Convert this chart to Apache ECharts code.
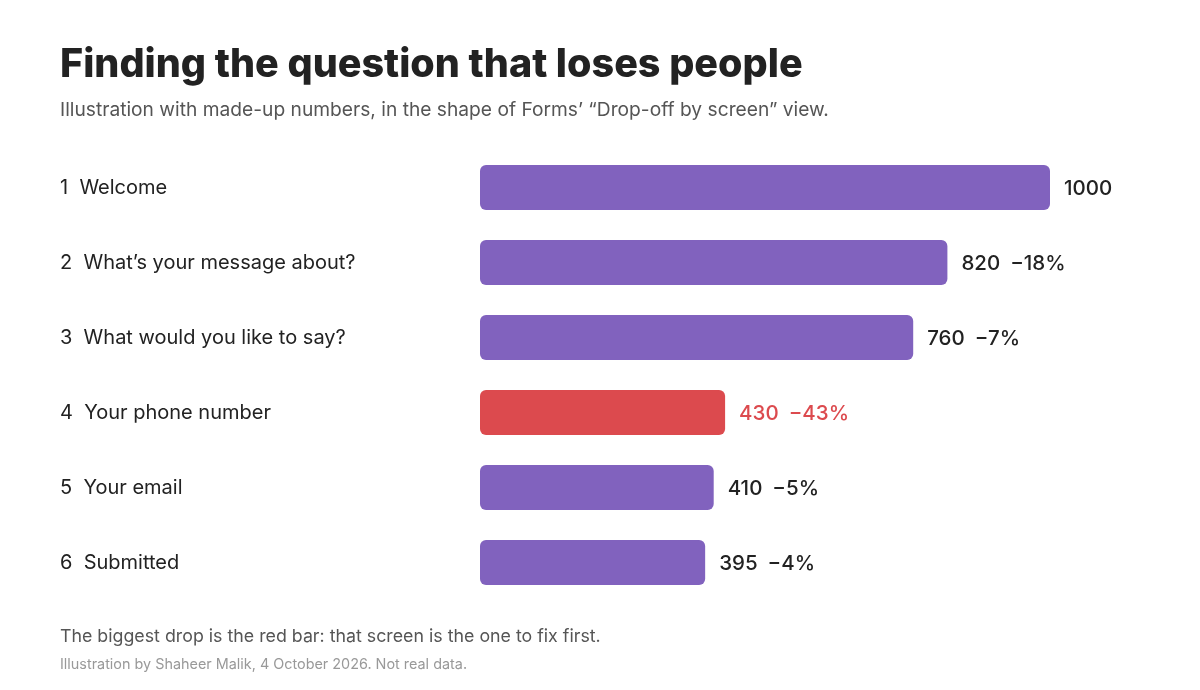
<!DOCTYPE html>
<html>
<head>
<meta charset="utf-8">
<script src="https://cdn.jsdelivr.net/npm/echarts@6/dist/echarts.min.js"></script>
<style>
  html, body { margin: 0; padding: 0; background: #fff; }
  #chart { width: 1200px; height: 690px; }
</style>
</head>
<body>
<div id="chart"></div>
<script>
// form screens, in order
const screens = ['Welcome', 'What\u2019s your message about?', 'What would you like to say?', 'Your phone number', 'Your email', 'Submitted']
// people reaching each screen
const reached = [1000, 820, 760, 430, 410, 395]
// drop vs previous screen, percent (first screen has none)
const dropPct = [null, -18, -7, -43, -5, -4]
const worstIndex = 3

const purple = '#8162BE'
const red = '#DC4A4E'
const fontFamily = 'Inter, "Noto Sans", sans-serif'

const chart = echarts.init(document.getElementById('chart'))

const option = {
  backgroundColor: '#fff',
  animation: false,
  title: [{
    text: 'Finding the question that loses people',
    left: 55,
    top: 40,
    textStyle: { fontFamily, fontSize: 39.5, fontWeight: 800, color: '#222' }
  }, {
    text: 'Illustration with made-up numbers, in the shape of Forms\u2019 \u201cDrop-off by screen\u201d view.',
    left: 55,
    top: 96,
    textStyle: { fontFamily, fontSize: 19.2, fontWeight: 400, color: '#555' }
  }, {
    text: 'The biggest drop is the red bar: that screen is the one to fix first.',
    left: 55,
    top: 623,
    textStyle: { fontFamily, fontSize: 17.8, fontWeight: 400, color: '#555' }
  }, {
    text: 'Illustration by Shaheer Malik, 4 October 2026. Not real data.',
    left: 55,
    top: 653,
    textStyle: { fontFamily, fontSize: 14.4, fontWeight: 400, color: '#999' }
  }],
  grid: { left: 480, right: 150, top: 150, bottom: 90 },
  xAxis: {
    type: 'value',
    min: 0,
    max: 1000,
    show: false
  },
  yAxis: {
    type: 'category',
    inverse: true,
    data: screens.map((s, i) => (i + 1) + '  ' + s),
    axisLine: { show: false },
    axisTick: { show: false },
    axisLabel: {
      align: 'left',
      margin: 420,
      fontFamily,
      fontSize: 20,
      color: '#222',
      padding: [5, 0, 0, 0]
    }
  },
  series: [{
    type: 'bar',
    barWidth: 45,
    data: reached.map((v, i) => {
      const c = i === worstIndex ? red : '#222'
      return {
        value: v,
        itemStyle: { color: i === worstIndex ? red : purple, borderRadius: 6 },
        label: {
          rich: {
            v: { fontFamily, fontSize: 20.5, fontWeight: 500, color: c, padding: [3, 0, 0, 0] },
            d: { fontFamily, fontSize: 20.5, fontWeight: 500, color: c, padding: [3, 0, 0, 10] }
          }
        }
      }
    }),
    label: {
      show: true,
      position: 'right',
      distance: 14,
      formatter: p => {
        const d = dropPct[p.dataIndex]
        return d == null ? '{v|' + p.value + '}' : '{v|' + p.value + '}{d|\u2212' + Math.abs(d) + '%}'
      }
    }
  }]
}

chart.setOption(option)
</script>
</body>
</html>
